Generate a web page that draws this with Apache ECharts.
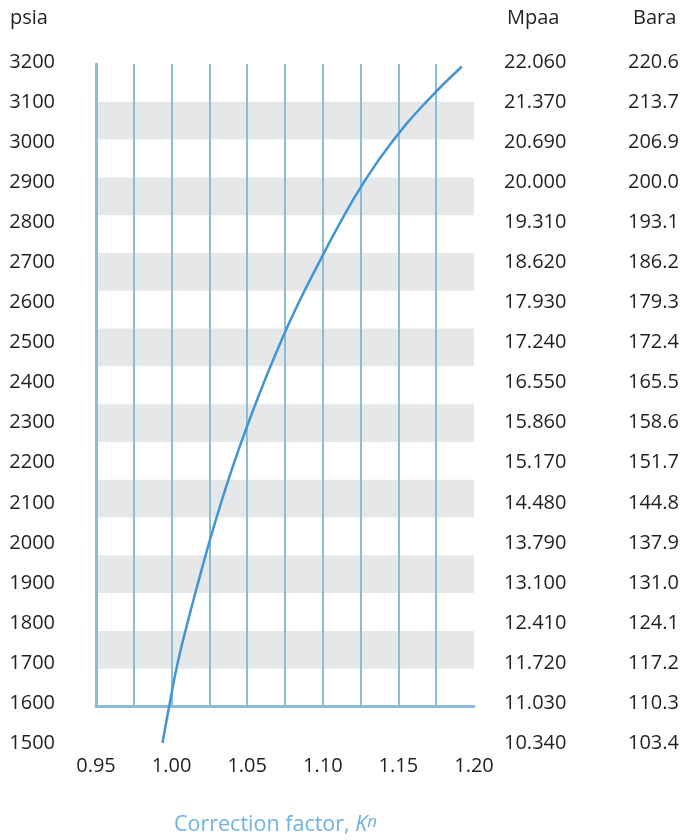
<!DOCTYPE html>
<html>
<head>
<meta charset="utf-8">
<style>
  html, body { margin: 0; padding: 0; background: #fff; }
  #chart { width: 686px; height: 840px; }
</style>
<script src="https://cdn.jsdelivr.net/npm/echarts@6/dist/echarts.min.js"></script>
</head>
<body>
<div id="chart"></div>
<script>
// pressure (psia) vs correction factor Kn
var psia = [1500, 1600, 1700, 1800, 1900, 2000, 2100, 2200, 2300, 2400, 2500, 2600, 2700, 2800, 2900, 3000, 3100, 3190];
var kn = [0.994, 0.9988, 1.004, 1.0105, 1.0175, 1.0248, 1.0327, 1.0413, 1.0508, 1.061, 1.072, 1.084, 1.0975, 1.1115, 1.127, 1.1455, 1.168, 1.192];

// right-hand tick labels, bottom to top (1500 ... 3200 psia)
var mpaaLabels = ['10.340', '11.030', '11.720', '12.410', '13.100', '13.790', '14.480', '15.170', '15.860',
    '16.550', '17.240', '17.930', '18.620', '19.310', '20.000', '20.690', '21.370', '22.060'];
var baraLabels = ['103.4', '110.3', '117.2', '124.1', '131.0', '137.9', '144.8', '151.7', '158.6',
    '165.5', '172.4', '179.3', '186.2', '193.1', '200.0', '206.9', '213.7', '220.6'];

var FONT = 'Open Sans';
var TXT = '#231f20';
var GRIDLINE = '#8bbdd6';
var BLUE = '#6cb2e4';

var chart = echarts.init(document.getElementById('chart'));

function idx (v) {
    return Math.round((v - 1500) / 100);
}

var labelStyle = { color: TXT, fontSize: 20, fontFamily: FONT };

var option = {
    animation: false,
    grid: [
        // curve + labels
        { left: 96, right: 212, top: 62.5, bottom: 97 },
        // decorative grid with bands
        { left: 96, right: 212, top: 64, bottom: 133.5 }
    ],
    xAxis: [
        {
            gridIndex: 0,
            type: 'value',
            min: 0.95,
            max: 1.2,
            interval: 0.05,
            axisLine: { show: false },
            axisTick: { show: false },
            splitLine: { show: false },
            axisLabel: Object.assign({
                margin: 13,
                formatter: function (v) { return v.toFixed(2); }
            }, labelStyle)
        },
        {
            gridIndex: 1,
            type: 'value',
            min: 0.95,
            max: 1.2,
            interval: 0.025,
            z: 1,
            axisLine: { show: true, lineStyle: { color: GRIDLINE, width: 3 } },
            axisTick: { show: false },
            axisLabel: { show: false },
            splitLine: {
                show: true,
                showMinLine: false,
                showMaxLine: false,
                lineStyle: { color: GRIDLINE, width: 2 }
            }
        }
    ],
    yAxis: [
        {
            gridIndex: 0,
            type: 'value',
            position: 'left',
            min: 1500,
            max: 3200,
            interval: 100,
            axisLine: { show: false },
            axisTick: { show: false },
            splitLine: { show: false },
            axisLabel: Object.assign({
                margin: 41,
                formatter: function (v) { return String(v); }
            }, labelStyle)
        },
        {
            gridIndex: 0,
            type: 'value',
            position: 'right',
            min: 1500,
            max: 3200,
            interval: 100,
            axisLine: { show: false },
            axisTick: { show: false },
            splitLine: { show: false },
            axisLabel: Object.assign({
                margin: 30,
                formatter: function (v) { return mpaaLabels[idx(v)]; }
            }, labelStyle)
        },
        {
            gridIndex: 0,
            type: 'value',
            position: 'right',
            offset: 124,
            min: 1500,
            max: 3200,
            interval: 100,
            axisLine: { show: false },
            axisTick: { show: false },
            splitLine: { show: false },
            axisLabel: Object.assign({
                margin: 30,
                formatter: function (v) { return baraLabels[idx(v)]; }
            }, labelStyle)
        },
        {
            gridIndex: 1,
            type: 'value',
            min: 0,
            max: 17,
            interval: 1,
            z: 0,
            axisLine: { show: true, lineStyle: { color: GRIDLINE, width: 3 } },
            axisTick: { show: false },
            axisLabel: { show: false },
            splitLine: { show: false },
            splitArea: {
                show: true,
                areaStyle: { color: ['rgba(0,0,0,0)', '#e6e7e8'] }
            }
        }
    ],
    graphic: [
        { type: 'text', left: 10, top: 8, style: { text: 'psia', fill: TXT, font: '20px "Open Sans"' } },
        { type: 'text', left: 507, top: 8, style: { text: 'Mpaa', fill: TXT, font: '20px "Open Sans"' } },
        { type: 'text', left: 633, top: 8, style: { text: 'Bara', fill: TXT, font: '20px "Open Sans"' } },
        {
            type: 'text',
            left: 174,
            top: 814,
            style: {
                text: 'Correction factor, {k|K}{n|n}',
                fill: BLUE,
                font: '21.5px "Open Sans"',
                rich: {
                    k: { fontStyle: 'italic', fontSize: 21.5, fontFamily: FONT, fill: BLUE },
                    n: { fontStyle: 'italic', fontSize: 17, fontFamily: FONT, fill: BLUE, padding: [0, 0, 5, 0] }
                }
            }
        }
    ],
    series: [
        {
            type: 'line',
            xAxisIndex: 0,
            yAxisIndex: 0,
            smooth: 0.5,
            showSymbol: false,
            z: 5,
            lineStyle: { color: '#3f95d5', width: 2.5 },
            data: psia.map(function (p, i) { return [kn[i], p]; })
        }
    ]
};

chart.setOption(option);
</script>
</body>
</html>
